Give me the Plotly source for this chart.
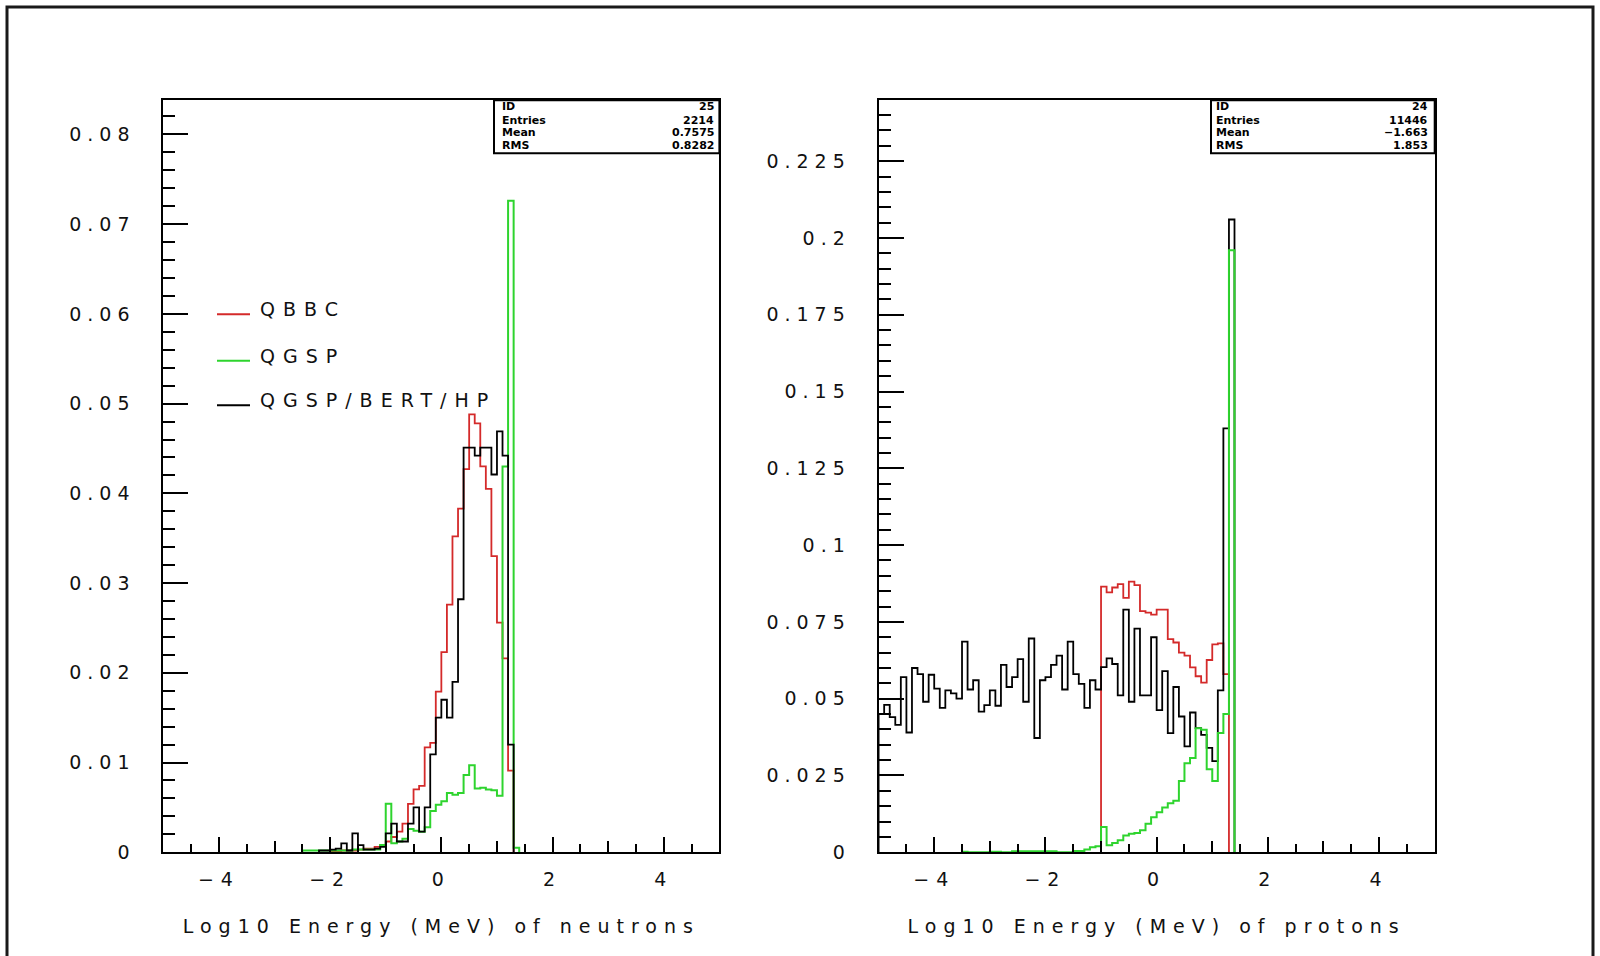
import plotly.graph_objects as go

# ---------------- data (bin width 0.1 in log10 E, axis range -5..5) ----------------
BIN_WIDTH = 0.1
X_RANGE = [-5, 5]

# Left panel : neutrons  (first value = bin whose lower edge is *_first_edge)
neutron_qbbc_first_edge = -2.0
neutron_qbbc = [0.0001, 0.0001, 0.0002, 0.0002, 0.0002, 0.0003, 0.0004, 0.0004, 0.0006, 0.0008,
                0.0012, 0.0017, 0.0023, 0.0032, 0.0054, 0.0070, 0.0074, 0.0117, 0.0122, 0.0179,
                0.0223, 0.0276, 0.0352, 0.0383, 0.0427, 0.0488, 0.0478, 0.0430, 0.0405, 0.0330,
                0.0256, 0.0216, 0.0091]

neutron_qgsp_first_edge = -2.5
neutron_qgsp = [0.0002, 0.0002, 0.0002, 0.0002, 0.0002, 0.0002, 0.0002, 0.0002, 0.0002,
                0.0003, 0.0003, 0.0003, 0.0003, 0.0003,
                0.0008, 0.0054, 0.0010, 0.0012, 0.0015, 0.0026, 0.0024, 0.0023, 0.0028, 0.0046, 0.0053,
                0.0057, 0.0066, 0.0064, 0.0066, 0.0086, 0.0097, 0.0071, 0.0072, 0.0070, 0.0069,
                0.0063, 0.0430, 0.0726, 0.0005]

neutron_bert_first_edge = -2.2
neutron_bert = [0.0002, 0.0002, 0.0003, 0.0004, 0.0010, 0.0002, 0.0021, 0.0008, 0.0003, 0.0003,
                0.0004, 0.0006,
                0.0021, 0.0032, 0.0012, 0.0012, 0.0032, 0.0050, 0.0023, 0.0050, 0.0109, 0.0150,
                0.0170, 0.0150, 0.0190, 0.0282, 0.0451, 0.0451, 0.0442, 0.0451, 0.0451, 0.0421,
                0.0469, 0.0442, 0.0120]

# Right panel : protons
proton_bert_first_edge = -5.0
proton_bert = [0.0450, 0.0480, 0.0440, 0.0415, 0.0570, 0.0390, 0.0600, 0.0580, 0.0490, 0.0578,
               0.0533, 0.0470, 0.0527, 0.0517, 0.0500, 0.0686, 0.0530, 0.0560, 0.0458, 0.0479,
               0.0527, 0.0477, 0.0610, 0.0538, 0.0570, 0.0629, 0.0490, 0.0696, 0.0372, 0.0560,
               0.0570, 0.0610, 0.0640, 0.0530, 0.0686, 0.0580, 0.0548, 0.0470, 0.0560, 0.0530,
               0.0603, 0.0631, 0.0613, 0.0511, 0.0790, 0.0490, 0.0728, 0.0511, 0.0511, 0.0700,
               0.0463, 0.0590, 0.0388, 0.0538, 0.0442, 0.0345, 0.0455, 0.0404, 0.0382, 0.0340,
               0.0297, 0.0527, 0.1380, 0.2060]

proton_qbbc_first_edge = -1.0
proton_qbbc = [0.0865, 0.0846, 0.0862, 0.0873, 0.0828, 0.0881, 0.0870, 0.0785, 0.0780, 0.0774,
               0.0790, 0.0790, 0.0694, 0.0683, 0.0650, 0.0640, 0.0602, 0.0573, 0.0552, 0.0626,
               0.0677, 0.0680, 0.0580]

proton_qgsp_first_edge = -3.5
proton_qgsp = [0.0002, 0.0, 0.0, 0.0, 0.0, 0.0002, 0.0002, 0.0, 0.0, 0.0003,
               0.0003, 0.0003, 0.0003, 0.0003, 0.0003, 0.0003, 0.0003, 0.0, 0.0, 0.0,
               0.0004, 0.0004, 0.0009, 0.0016, 0.0020, 0.0082, 0.0023, 0.0030, 0.0039, 0.0055,
               0.0060, 0.0063, 0.0072, 0.0093, 0.0114, 0.0130, 0.0146, 0.0160, 0.0168, 0.0232,
               0.0290, 0.0307, 0.0404, 0.0399, 0.0270, 0.0232, 0.0388, 0.0450, 0.1960]

series_names = ["QBBC", "QGSP", "QGSP/BERT/HP"]

x_tick_values = [-4, -2, 0, 2, 4]
x_tick_labels = ["\u22124", "\u22122", "0", "2", "4"]
neutron_y_ticks = [0, 0.01, 0.02, 0.03, 0.04, 0.05, 0.06, 0.07, 0.08]
neutron_y_labels = ["0", "0.01", "0.02", "0.03", "0.04", "0.05", "0.06", "0.07", "0.08"]
proton_y_ticks = [0, 0.025, 0.05, 0.075, 0.1, 0.125, 0.15, 0.175, 0.2, 0.225]
proton_y_labels = ["0", "0.025", "0.05", "0.075", "0.1", "0.125", "0.15", "0.175", "0.2", "0.225"]

neutron_title = "Log10 Energy (MeV) of neutrons"
proton_title = "Log10 Energy (MeV) of protons"

neutron_stats = [("ID", "25"), ("Entries", "2214"), ("Mean", "0.7575"), ("RMS", "0.8282")]
proton_stats = [("ID", "24"), ("Entries", "11446"), ("Mean", "\u22121.663"), ("RMS", "1.853")]

# ---------------- style ----------------
W, H = 1600, 956
C_QBBC = "#d42a2a"
C_QGSP = "#2ed42e"
C_BERT = "#000000"
FONT = "DejaVu Sans"
FS = 19
LS = 6  # letter spacing (px) to mimic the wide ROOT font


def sp(t, ls=LS):
    return '<span style="letter-spacing:%dpx">%s</span>' % (ls, t)


def step(first_edge, vals):
    edges = [round(first_edge + i * BIN_WIDTH, 4) for i in range(len(vals) + 1)]
    xs = [edges[0]] + edges[:-1] + [edges[-1]]
    ys = [0] + list(vals) + [0]
    return xs, ys


def px_x(p):
    return p / W


def px_y(p):
    return 1 - p / H


LEFT_DOM = [px_x(163.3), px_x(719.4)]
RIGHT_DOM = [px_x(878.6), px_x(1434.7)]
Y_DOM = [px_y(862.2), px_y(101.5)]

fig = go.Figure()

def add_hist(first, vals, color, xa, ya, width=1.8):
    xs, ys = step(first, vals)
    fig.add_trace(go.Scatter(x=xs, y=ys, mode="lines", line=dict(color=color, width=width, shape="hv"),
                             xaxis=xa, yaxis=ya, showlegend=False, hoverinfo="skip"))

# left panel
add_hist(neutron_qbbc_first_edge, neutron_qbbc, C_QBBC, "x", "y")
add_hist(neutron_qgsp_first_edge, neutron_qgsp, C_QGSP, "x", "y", 2.0)
add_hist(neutron_bert_first_edge, neutron_bert, C_BERT, "x", "y")
# right panel
add_hist(proton_qbbc_first_edge, proton_qbbc, C_QBBC, "x2", "y2")
add_hist(proton_bert_first_edge, proton_bert, C_BERT, "x2", "y2")
add_hist(proton_qgsp_first_edge, proton_qgsp, C_QGSP, "x2", "y2", 2.0)
# dummy traces for the medium-tick overlay axes
fig.add_trace(go.Scatter(x=[None], y=[None], xaxis="x3", yaxis="y", showlegend=False))
fig.add_trace(go.Scatter(x=[None], y=[None], xaxis="x4", yaxis="y2", showlegend=False))

tick_font = dict(family=FONT, size=FS, color="#111111")

def xaxis_cfg(dom, anchor, title):
    return dict(domain=dom, anchor=anchor, range=X_RANGE, showgrid=False, zeroline=False,
                showline=True, linecolor="black", linewidth=2, mirror=True,
                ticks="inside", ticklen=15, tickwidth=1.5, tickcolor="black",
                tickmode="array", tickvals=x_tick_values, ticktext=[sp(t, 7) for t in x_tick_labels],
                tickfont=tick_font, ticklabelstandoff=9,
                minor=dict(tickmode="linear", tick0=0, dtick=0.5, ticks="inside", ticklen=8,
                           tickwidth=1.5, tickcolor="black", showgrid=False),
                title=dict(text=sp(title, 7), font=dict(family=FONT, size=FS, color="#111111"), standoff=31))

def medium_cfg(dom, over, anchor):
    return dict(domain=dom, overlaying=over, anchor=anchor, range=X_RANGE, showgrid=False,
                zeroline=False, showline=False, ticks="inside", ticklen=11, tickwidth=1.5,
                tickcolor="black", tickmode="linear", tick0=0, dtick=1, showticklabels=False)

def yaxis_cfg(anchor, rng, tv, tt, dmin):
    return dict(domain=Y_DOM, anchor=anchor, range=rng, showgrid=False, zeroline=False,
                showline=True, linecolor="black", linewidth=2, mirror=True,
                ticks="inside", ticklen=25, tickwidth=1.5, tickcolor="black",
                tickmode="array", tickvals=tv, ticktext=[sp(t) for t in tt],
                tickfont=tick_font, ticklabelstandoff=22,
                minor=dict(tickmode="linear", tick0=0, dtick=dmin, ticks="inside", ticklen=12,
                           tickwidth=1.5, tickcolor="black", showgrid=False))

shapes = []
annotations = []

# outer canvas border
shapes.append(dict(type="rect", xref="paper", yref="paper", x0=px_x(7), x1=px_x(1593),
                   y0=-0.05, y1=px_y(7), line=dict(color="#1a1a1a", width=3)))

# stats boxes
def stats_box(x0, x1, rows, lab_x, val_x):
    shapes.append(dict(type="rect", xref="paper", yref="paper", x0=px_x(x0), x1=px_x(x1),
                       y0=px_y(155), y1=px_y(101.5), line=dict(color="black", width=2),
                       fillcolor="white"))
    ys = [108, 121.5, 134.5, 147.5]
    for (lab, val), yy in zip(rows, ys):
        annotations.append(dict(xref="paper", yref="paper", x=px_x(lab_x), y=px_y(yy),
                                xanchor="left", yanchor="middle", showarrow=False, text="<b>%s</b>" % lab,
                                font=dict(family=FONT, size=11, color="black")))
        annotations.append(dict(xref="paper", yref="paper", x=px_x(val_x), y=px_y(yy),
                                xanchor="right", yanchor="middle", showarrow=False, text="<b>%s</b>" % val,
                                font=dict(family=FONT, size=11, color="black")))

stats_box(494, 719.4, neutron_stats, 500, 716)
stats_box(1211, 1434.7, proton_stats, 1214, 1430)

# legend
leg_colors = [C_QBBC, C_QGSP, C_BERT]
leg_line_y = [318, 365, 410]
leg_text_y = [313, 360, 405]
for name, col, ly, ty in zip(series_names, leg_colors, leg_line_y, leg_text_y):
    shapes.append(dict(type="line", xref="paper", yref="paper", x0=px_x(217), x1=px_x(250),
                       y0=px_y(ly), y1=px_y(ly), line=dict(color=col, width=2)))
    annotations.append(dict(xref="paper", yref="paper", x=px_x(258), y=px_y(ty), xanchor="left",
                            yanchor="middle", showarrow=False, text=sp(name, 8),
                            font=dict(family=FONT, size=FS, color="#111111")))

fig.update_layout(
    width=W, height=H, margin=dict(l=0, r=0, t=0, b=0),
    paper_bgcolor="white", plot_bgcolor="white", showlegend=False,
    xaxis=xaxis_cfg(LEFT_DOM, "y", neutron_title),
    xaxis2=xaxis_cfg(RIGHT_DOM, "y2", proton_title),
    xaxis3=medium_cfg(LEFT_DOM, "x", "y"),
    xaxis4=medium_cfg(RIGHT_DOM, "x2", "y2"),
    yaxis=yaxis_cfg("x", [0, 0.0838], neutron_y_ticks, neutron_y_labels, 0.002),
    yaxis2=yaxis_cfg("x2", [0, 0.2448], proton_y_ticks, proton_y_labels, 0.005),
    shapes=shapes, annotations=annotations,
)

fig.write_html("out.html")
